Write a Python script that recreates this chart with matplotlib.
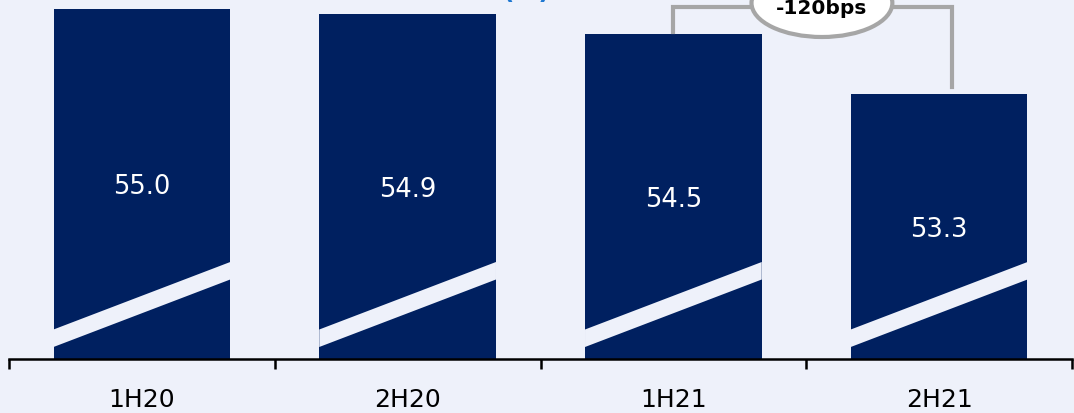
import numpy as np
import matplotlib
matplotlib.use('Agg')
import matplotlib.pyplot as plt
from matplotlib.patches import Ellipse, Polygon

# data
periods = ['1H20', '2H20', '1H21', '2H21']
margin = [55.0, 54.9, 54.5, 53.3]
change_label = '-120bps'
title_txt = '(%)'

navy = '#002060'
bg = '#EEF1FA'
grey = '#A6A6A6'

fig = plt.figure(figsize=(10.74, 4.14), dpi=100, facecolor=bg)
ax = fig.add_axes([9 / 1074, 54 / 414, 1063 / 1074, 360 / 414])
ax.set_facecolor(bg)

x = np.arange(len(periods))
w = 0.665
y0 = 48.0
ax.bar(x, np.array(margin) - y0, bottom=y0, width=w, color=navy, zorder=2)
ax.set_xlim(-0.5, len(periods) - 0.5)
ax.set_ylim(y0, 55.2)

# axis-break stripe across each bar
for xi in x:
    l, r = xi - w / 2, xi + w / 2
    stripe = Polygon([(l, 48.24), (r, 49.59), (r, 49.94), (l, 48.59)],
                     closed=True, facecolor=bg, edgecolor='none', zorder=3)
    ax.add_patch(stripe)

for xi, v in zip(x, margin):
    ax.text(xi, (v + y0) / 2 - 0.05, '%.1f' % v, color='white', fontsize=18.5,
            ha='center', va='center', zorder=4)

# bracket showing the change
ax.plot([2, 2, 3.05, 3.05], [54.54, 55.04, 55.04, 53.44], color=grey,
        lw=3, solid_joinstyle='miter', clip_on=False, zorder=5)
ell = Ellipse((2.559, 55.12), 0.53, 1.36, facecolor='white', edgecolor=grey,
              lw=3, clip_on=False, zorder=6)
ax.add_patch(ell)
ax.text(2.559, 55.03, change_label, fontsize=14.5, fontweight='bold',
        ha='center', va='center', zorder=7, clip_on=False)

# axes styling
for s in ['left', 'right', 'top']:
    ax.spines[s].set_visible(False)
ax.spines['bottom'].set_linewidth(1.8)
ax.set_yticks([])
ax.set_xticks(np.arange(len(periods) + 1) - 0.5)
ax.set_xticklabels([])
ax.tick_params(axis='x', which='major', direction='out', length=7, width=1.8)
ax.set_xticks(x, minor=True)
ax.set_xticklabels(periods, minor=True, fontsize=18)
ax.tick_params(axis='x', which='minor', length=0, pad=20)

fig.text(527 / 1074, 1 - 4 / 414, title_txt, color='#1F78D1', fontsize=18,
         fontweight='bold', ha='center', va='bottom')

fig.savefig('out.png', dpi=100, facecolor=bg)
